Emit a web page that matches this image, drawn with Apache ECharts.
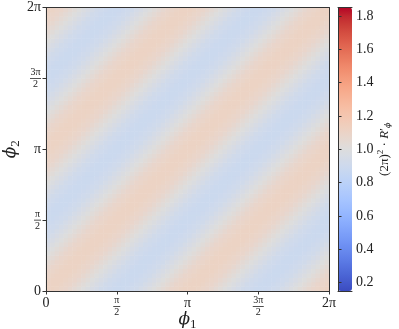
<!DOCTYPE html>
<html>
<head>
<meta charset="utf-8">
<script src="https://cdn.jsdelivr.net/npm/echarts@6/dist/echarts.min.js"></script>
<style>
html, body { margin: 0; padding: 0; background: #fff; }
#main { width: 399px; height: 329px; }
</style>
</head>
<body>
<div id="main"></div>
<script>
// grid resolution of the phase map (cells per 2π)
var nCells = 64;
// value along one stripe period (phi1 - phi2 from 0 to π)
var profile = [1.11, 1.11, 1.10, 1.09, 1.08, 1.06, 1.04, 1.02, 1.00, 0.98, 0.96, 0.94, 0.92, 0.91, 0.90, 0.89,
               0.89, 0.89, 0.90, 0.91, 0.92, 0.94, 0.96, 0.98, 1.00, 1.02, 1.04, 1.06, 1.08, 1.09, 1.10, 1.11];
var piTicks = ['0', 'π/2', 'π', '3π/2', '2π'];
var cbarMin = 0.15;
var cbarMax = 1.85;

var coolwarm = ['#3b4cc0', '#445acc', '#4d68d7', '#5775e1', '#6282ea', '#6c8ef1', '#779af7', '#82a5fb',
  '#8db0fe', '#98b9ff', '#a3c2ff', '#aec9fd', '#b8d0f9', '#c2d5f4', '#ccd9ee', '#d5dbe6', '#dddddd',
  '#e5d8d1', '#ecd3c5', '#f1ccb9', '#f5c4ad', '#f7bba0', '#f7b194', '#f7a687', '#f49a7b', '#f18d6f',
  '#ec7f63', '#e57058', '#de604d', '#d55042', '#cb3e38', '#c0282f', '#b40426'];

var cells = [];
for (var j = 0; j < nCells; j++) {
  for (var i = 0; i < nCells; i++) {
    var k = ((i - j) % profile.length + profile.length) % profile.length;
    cells.push([i, j, profile[k]]);
  }
}
var cats = [];
for (var c = 0; c < nCells; c++) cats.push(c);

var txt = '#222';
var serif = 'DejaVu Serif';
var lserif = 'Liberation Serif';

function piLabel(v) {
  var s = piTicks[Math.round(v)];
  if (s === undefined) return '';
  if (s.indexOf('/') < 0) return '{b|' + s + '}';
  var p = s.split('/');
  return '{n|' + p[0] + '}\n{' + (p[0].length > 1 ? 'bar3' : 'bar') + '| }\n{n|' + p[1] + '}';
}
var fracRich = {
  b: { fontFamily: lserif, fontSize: 14, color: txt },
  n: { fontFamily: lserif, fontSize: 10, color: txt, lineHeight: 9, align: 'center' },
  bar: { width: 7, height: 0.8, lineHeight: 3, fontSize: 1, backgroundColor: txt, align: 'center' },
  bar3: { width: 11, height: 0.8, lineHeight: 3, fontSize: 1, backgroundColor: txt, align: 'center' }
};
var phiRich = {
  i: { fontFamily: serif, fontStyle: 'italic', fontSize: 17, color: txt },
  s: { fontFamily: lserif, fontSize: 13, color: txt, padding: [9, 0, 0, 0] }
};

var spine = { show: true, lineStyle: { color: '#333', width: 1 } };
var noLab = { show: false };

var myChart = echarts.init(document.getElementById('main'));
var option = {
  animation: false,
  grid: [
    { left: 46, top: 7.5, width: 283, height: 283.5, containLabel: false, outerBoundsMode: 'none' },
    { left: 338, top: 7.5, width: 14, height: 283.5, containLabel: false, outerBoundsMode: 'none' }
  ],
  xAxis: [
    { type: 'category', gridIndex: 0, data: cats, show: false },
    {
      type: 'value', gridIndex: 0, min: 0, max: 4, interval: 1, position: 'bottom', z: 10,
      axisLine: spine, splitLine: { show: false },
      axisTick: { show: true, length: 3.5, lineStyle: { color: '#333' } },
      axisLabel: { formatter: piLabel, rich: fracRich, margin: 5 },
      name: '{i|ϕ}{s|1}', nameLocation: 'middle', nameGap: 18, nameMoveOverlap: false,
      nameTextStyle: { rich: phiRich }
    },
    { type: 'value', gridIndex: 0, min: 0, max: 4, position: 'top', z: 10, axisLine: spine,
      axisTick: noLab, axisLabel: noLab, splitLine: noLab },
    { type: 'value', gridIndex: 1, min: 0, max: 1, position: 'bottom', z: 10, axisLine: spine,
      axisTick: noLab, axisLabel: noLab, splitLine: noLab },
    { type: 'value', gridIndex: 1, min: 0, max: 1, position: 'top', z: 10, axisLine: spine,
      axisTick: noLab, axisLabel: noLab, splitLine: noLab }
  ],
  yAxis: [
    { type: 'category', gridIndex: 0, data: cats, show: false },
    {
      type: 'value', gridIndex: 0, min: 0, max: 4, interval: 1, position: 'left', z: 10,
      axisLine: spine, splitLine: { show: false },
      axisTick: { show: true, length: 3.5, lineStyle: { color: '#333' } },
      axisLabel: { formatter: piLabel, rich: fracRich, margin: 5 },
      name: '{i|ϕ}{s|2}', nameLocation: 'middle', nameGap: 24, nameRotate: 90, nameMoveOverlap: false,
      nameTextStyle: { rich: phiRich }
    },
    { type: 'value', gridIndex: 0, min: 0, max: 4, position: 'right', z: 10, axisLine: spine,
      axisTick: noLab, axisLabel: noLab, splitLine: noLab },
    {
      type: 'value', gridIndex: 1, min: cbarMin, max: cbarMax, splitNumber: 8, position: 'right', z: 10,
      axisLine: spine, splitLine: { show: false },
      axisTick: { show: true, length: 3.5, lineStyle: { color: '#333' } },
      axisLabel: { showMinLabel: false, showMaxLabel: false, margin: 4, fontFamily: lserif, fontSize: 14, color: txt,
        formatter: function (v) { return v.toFixed(1); } },
      name: '{b|(2π)}{sup|2}{b| · }{i|R}{b|′}{sub|ϕ}', nameLocation: 'middle', nameGap: 24, nameRotate: 90,
      nameMoveOverlap: false,
      nameTextStyle: { rich: {
        b: { fontFamily: lserif, fontSize: 13, color: txt },
        i: { fontFamily: lserif, fontStyle: 'italic', fontSize: 13, color: txt },
        sup: { fontFamily: lserif, fontSize: 9, color: txt, padding: [0, 0, 8, 0] },
        sub: { fontFamily: serif, fontStyle: 'italic', fontSize: 8, color: txt, padding: [7, 0, 0, 0] }
      } }
    },
    { type: 'value', gridIndex: 1, min: cbarMin, max: cbarMax, position: 'left', z: 10, axisLine: spine,
      axisTick: noLab, axisLabel: noLab, splitLine: noLab }
  ],
  visualMap: {
    type: 'continuous', min: cbarMin, max: cbarMax, seriesIndex: 0,
    orient: 'vertical', left: 338, top: 7.5, itemWidth: 14, itemHeight: 283.5,
    padding: 0, calculable: false, hoverLink: false, text: null,
    inRange: { color: coolwarm }
  },
  series: [{
    type: 'heatmap', xAxisIndex: 0, yAxisIndex: 0, data: cells,
    progressive: 0, emphasis: { disabled: true }
  }]
};
myChart.setOption(option);
</script>
</body>
</html>
